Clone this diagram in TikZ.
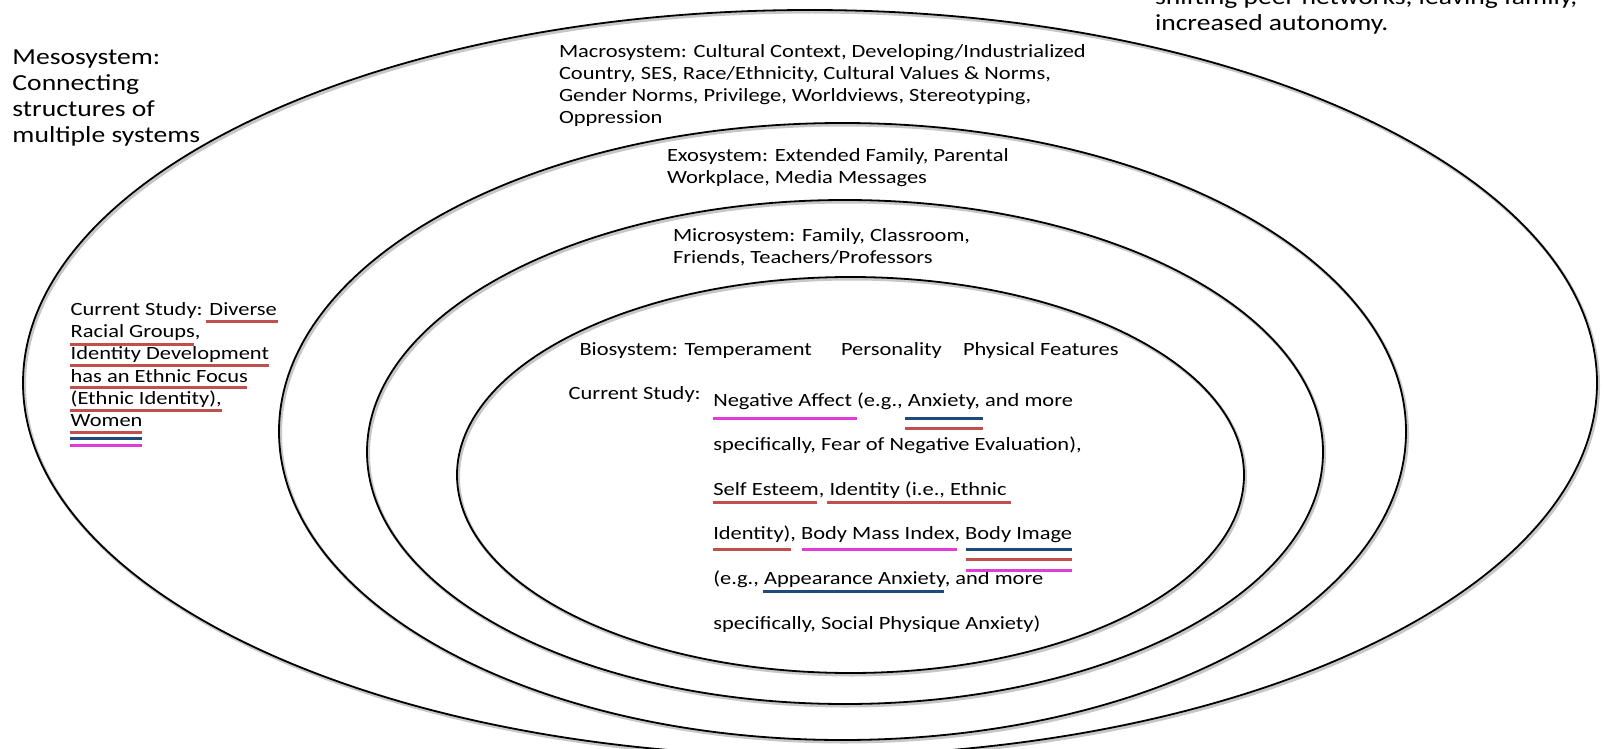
\documentclass[tikz,border=0pt]{standalone}
\usepackage{fontspec}
\setmainfont{Carlito}[FakeStretch=1.2]
\definecolor{ulred}{RGB}{192,80,77}
\definecolor{ulblue}{RGB}{31,73,125}
\definecolor{ulpink}{RGB}{226,60,216}
\begin{document}
\begin{tikzpicture}[x=1pt,y=-1pt,
  ring/.style={draw=black, line width=1.8pt},
  ringshadow/.style={draw=black!22, line width=3pt},
  txt/.style={anchor=base west, inner sep=0pt, outer sep=0pt, font=\fontsize{18.7}{22}\selectfont},
  big/.style={txt, font=\fontsize{23}{26}\selectfont},
  ulr/.style={draw=ulred, line width=3pt},
  ulb/.style={draw=ulblue, line width=3pt},
  ulp/.style={draw=ulpink, line width=3pt}]
\useasboundingbox (0,0) rectangle (1604,749);
\fill[white] (0,0) rectangle (1604,749);

% nested system rings: macro, exo, micro, bio
\foreach \cx/\cy/\rx/\ry in {810/383/787/373, 842.5/431.5/563.5/308.5, 845/452/478/252, 850.5/475/393.5/198}{
  \draw[ringshadow] (\cx+1.5,\cy+2) ellipse [x radius=\rx, y radius=\ry];
  \draw[ring] (\cx,\cy) ellipse [x radius=\rx, y radius=\ry];
}

% mesosystem label
\node[big] (meso1) at (12.5,65) {Mesosystem:};
\node[big] (meso2) at (12.5,90.5) {Connecting};
\node[big] (meso3) at (12.5,116.5) {structures of};
\node[big] (meso4) at (12.5,142.5) {multiple systems};

% chronosystem note, top right
\node[big] (chrono1) at (1155,5) {shifting peer networks, leaving family,};
\node[big] (chrono2) at (1155,31) {increased autonomy.};

% macrosystem
\node[txt] (macro1) at (559,58) {Macrosystem: Cultural Context, Developing/Industrialized};
\node[txt] (macro2) at (559,80) {Country, SES, Race/Ethnicity, Cultural Values \& Norms,};
\node[txt] (macro3) at (559,102) {Gender Norms, Privilege, Worldviews, Stereotyping,};
\node[txt] (macro4) at (559,124) {Oppression};

% exosystem
\node[txt] (exo1) at (667,161.5) {Exosystem: Extended Family, Parental};
\node[txt] (exo2) at (667,183) {Workplace, Media Messages};

% microsystem
\node[txt] (micro1) at (673,241.5) {Microsystem: Family, Classroom,};
\node[txt] (micro2) at (673,263.5) {Friends, Teachers/Professors};

% biosystem
\node[txt] (bio1) at (579.5,355) {Biosystem: Temperament};
\node[txt] (bio2) at (841,355) {Personality};
\node[txt] (bio3) at (963,355) {Physical Features};

% current study, individual level
\node[txt] (cs) at (568.7,399.5) {Current Study:};
\node[txt] (b1) at (713.3,406) {Negative Affect (e.g., Anxiety, and more};
\node[txt] (b2) at (713.3,450.5) {specifically, Fear of Negative Evaluation),};
\node[txt] (b3) at (713.3,495) {Self Esteem, Identity (i.e., Ethnic};
\node[txt] (b4) at (713.3,539.5) {Identity), Body Mass Index, Body Image};
\node[txt] (b5) at (713.3,584) {(e.g., Appearance Anxiety, and more};
\node[txt] (b6) at (713.3,629) {specifically, Social Physique Anxiety)};

% current study, group level
\node[txt] (g1) at (70.7,315) {Current Study: Diverse};
\node[txt] (g2) at (70.7,337.5) {Racial Groups,};
\node[txt] (g3) at (70.7,359.5) {Identity Development};
\node[txt] (g4) at (70.7,382) {has an Ethnic Focus};
\node[txt] (g5) at (70.7,404) {(Ethnic Identity),};
\node[txt] (g6) at (70.7,426) {Women};

% colour-coded underlines
\draw[ulr] (205.7,321) -- (278,321);
\draw[ulr] (70,344) -- (194,344);
\draw[ulr] (70,365) -- (269,365);
\draw[ulr] (70,387) -- (247,387);
\draw[ulr] (70,410) -- (222,410);
\draw[ulr] (70,432) -- (142,432);
\draw[ulb] (70,438.7) -- (142,438.7);
\draw[ulp] (70,445) -- (142,445);

\draw[ulp] (713,418.5) -- (856.5,418.5);
\draw[ulb] (904.7,418.5) -- (983,418.5);
\draw[ulr] (904.7,428.7) -- (983,428.7);
\draw[ulr] (713.3,502.3) -- (816.7,502.3);
\draw[ulr] (826.7,502.3) -- (1011,502.3);
\draw[ulr] (713.3,549.3) -- (791,549.3);
\draw[ulp] (801.7,549.3) -- (956.7,549.3);
\draw[ulb] (965.7,549.3) -- (1072.3,549.3);
\draw[ulr] (965.7,559.3) -- (1072.3,559.3);
\draw[ulp] (965.7,570) -- (1072.3,570);
\draw[ulb] (763.3,591.7) -- (944.3,591.7);
\end{tikzpicture}
\end{document}
